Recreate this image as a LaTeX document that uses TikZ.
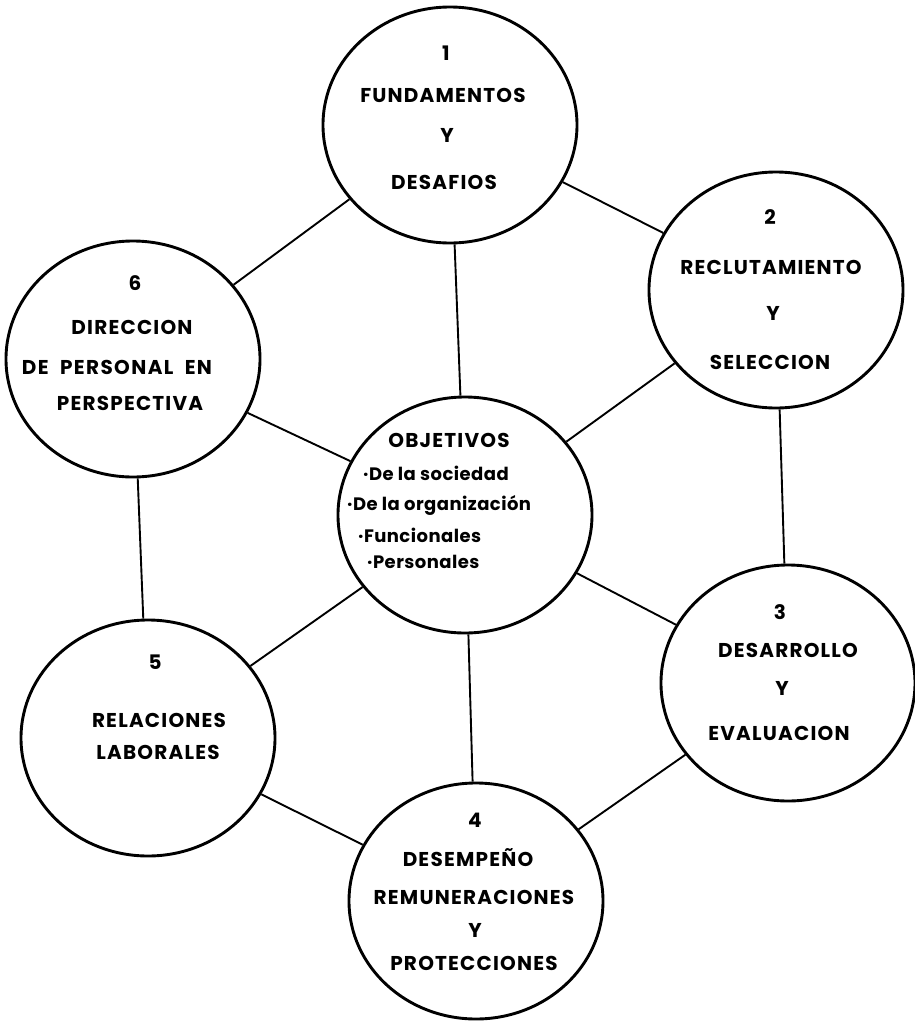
\documentclass[tikz,border=0pt]{standalone}
\usepackage{fontspec}
\setmainfont{Poppins}
\newfontfamily\lett{Poppins}[LetterSpace=6]
\newfontfamily\lettw{Poppins}[LetterSpace=7,WordSpace=2.0]
\newfontfamily\letts{Poppins}[LetterSpace=2.5]
\usetikzlibrary{shapes.geometric}
\begin{document}
\begin{tikzpicture}[x=1pt,y=-1pt,
  circ/.style={draw=black,line width=2.9pt,ellipse,inner sep=0pt,minimum width=254pt,minimum height=236pt},
  conn/.style={draw=black,line width=1.9pt},
  lab/.style={inner sep=0pt,font=\lett\bfseries\fontsize{20}{22}\selectfont},
  labw/.style={inner sep=0pt,font=\lettw\bfseries\fontsize{20}{22}\selectfont},
  labs/.style={inner sep=0pt,anchor=west,font=\letts\bfseries\fontsize{18}{20}\selectfont}]
\useasboundingbox (0,0) rectangle (915,1021);
% circles
\node[circ] (c1) at (450,125) {};
\node[circ] (c2) at (776,290) {};
\node[circ] (c3) at (788,683) {};
\node[circ] (c4) at (476,901) {};
\node[circ] (c5) at (148,738) {};
\node[circ] (c6) at (133,359) {};
\node[circ] (c0) at (465,515) {};
% connectors
\draw[conn] (c1) -- (c2);
\draw[conn] (c1) -- (c6);
\draw[conn] (c1) -- (c0);
\draw[conn] (c2) -- (c0);
\draw[conn] (c2) -- (c3);
\draw[conn] (c6) -- (c0);
\draw[conn] (c6) -- (c5);
\draw[conn] (c0) -- (c3);
\draw[conn] (c0) -- (c5);
\draw[conn] (c0) -- (c4);
\draw[conn] (c3) -- (c4);
\draw[conn] (c5) -- (c4);
% circle 1
\node[lab] (t1a) at (446,53) {1};
\node[lab] (t1b) at (443,95) {FUNDAMENTOS};
\node[lab] (t1c) at (447,135) {Y};
\node[lab] (t1d) at (444,182) {DESAFIOS};
% circle 2
\node[lab] (t2a) at (770,217) {2};
\node[lab] (t2b) at (771,267) {RECLUTAMIENTO};
\node[lab] (t2c) at (773,313) {Y};
\node[lab] (t2d) at (770,362) {SELECCION};
% circle 3
\node[lab] (t3a) at (780,612) {3};
\node[lab] (t3b) at (788,650) {DESARROLLO};
\node[lab] (t3c) at (782,688) {Y};
\node[lab] (t3d) at (779,733) {EVALUACION};
% circle 4
\node[lab] (t4a) at (475,820) {4};
\node[lab] (t4b) at (468,858) {DESEMPEÑO};
\node[lab] (t4c) at (474,897) {REMUNERACIONES};
\node[lab] (t4d) at (475,930) {Y};
\node[lab] (t4e) at (474,963) {PROTECCIONES};
% circle 5
\node[lab] (t5a) at (155,662) {5};
\node[lab] (t5b) at (159,720) {RELACIONES};
\node[lab] (t5c) at (158,752) {LABORALES};
% circle 6
\node[lab] (t6a) at (135,283) {6};
\node[lab] (t6b) at (132,327) {DIRECCION};
\node[labw] (t6c) at (117,367) {DE PERSONAL EN};
\node[lab] (t6d) at (130,403) {PERSPECTIVA};
% centre
\node[lab] (t0a) at (449,440) {OBJETIVOS};
\node[labs] (t0b) at (363,473) {·De la sociedad};
\node[labs] (t0c) at (347,505) {·De la organización};
\node[labs] (t0d) at (358,535) {·Funcionales};
\node[labs] (t0e) at (367,562) {·Personales};
\end{tikzpicture}
\end{document}
